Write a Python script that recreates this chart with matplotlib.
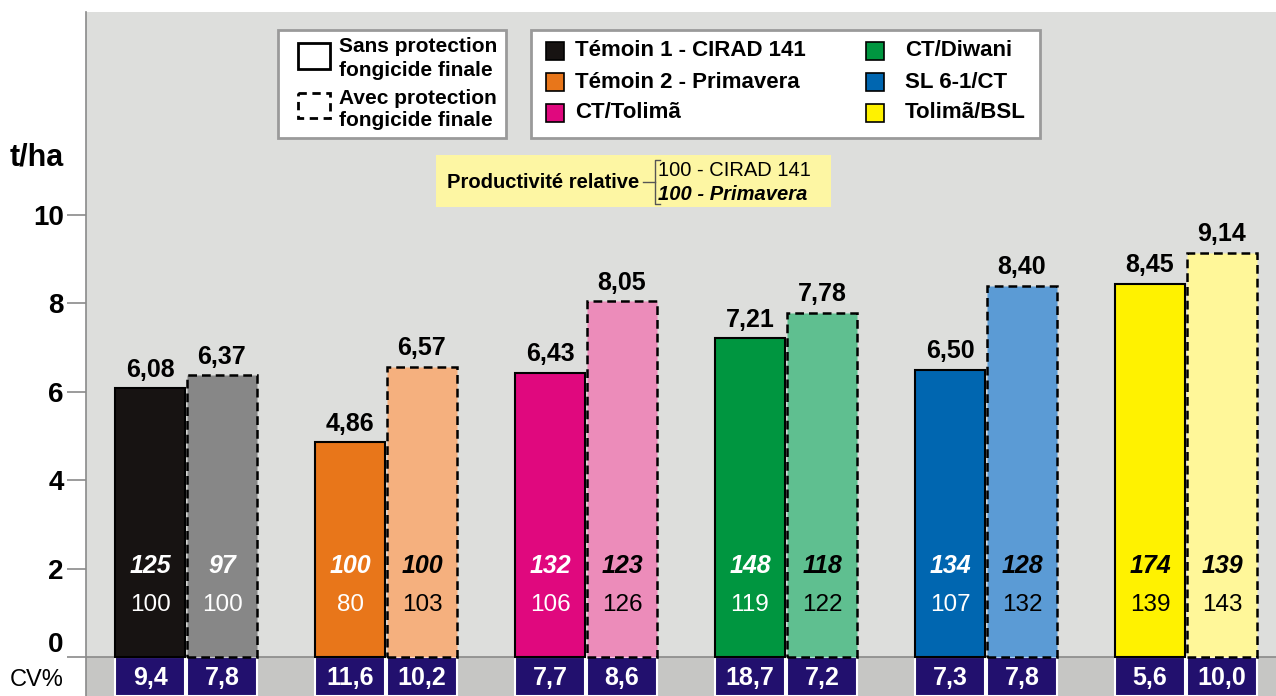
import matplotlib.pyplot as plt
from matplotlib.patches import Rectangle
from matplotlib.transforms import ScaledTranslation

plt.rcParams['font.family'] = ['Liberation Sans', 'DejaVu Sans']

# Données
varietes = ['Témoin 1 - CIRAD 141', 'Témoin 2 - Primavera', 'CT/Tolimã',
            'CT/Diwani', 'SL 6-1/CT', 'Tolimã/BSL']
sans_prot = [6.08, 4.86, 6.43, 7.21, 6.50, 8.45]
avec_prot = [6.37, 6.57, 8.05, 7.78, 8.40, 9.14]
rel_prim_sans = [125, 100, 132, 148, 134, 174]
rel_prim_avec = [97, 100, 123, 118, 128, 139]
rel_cirad_sans = [100, 80, 106, 119, 107, 139]
rel_cirad_avec = [100, 103, 126, 122, 132, 143]
cv_sans = [9.4, 11.6, 7.7, 18.7, 7.3, 5.6]
cv_avec = [7.8, 10.2, 8.6, 7.2, 7.8, 10.0]
yticks = [0, 2, 4, 6, 8, 10]
leg_protection = [('Sans protection', 'fongicide finale'),
                  ('Avec protection', 'fongicide finale')]

couleurs_sans = ['#171312', '#e8761a', '#e0087e', '#009640', '#0066b0', '#fff200']
couleurs_avec = ['#878787', '#f5b07e', '#ec8cba', '#5fbf90', '#5b9bd5', '#fff799']
txt_sans = ['white', 'white', 'white', 'white', 'white', 'black']
txt_avec = ['white', 'black', 'black', 'black', 'black', 'black']

W, H = 1276, 696
fig = plt.figure(figsize=(W / 100, H / 100), dpi=100)

# axe principal (pixels : 0 -> y=657, 44.2 px par t/ha)
y0, ppu = 657, 44.2
ax = fig.add_axes([86 / W, 0, 1 - 86 / W, 1 - 12 / H])
ax.set_xlim(-0.5, 5.45)
ax.set_ylim(-(H - y0) / ppu, (y0 - 12) / ppu)
ax.set_facecolor('#dddedc')
ax.axhspan(ax.get_ylim()[0], 0, color='#c6c6c4', zorder=0)
ax.axhline(0, color='#8a8a8a', lw=1.2, zorder=1)

for s in ['top', 'right', 'bottom']:
    ax.spines[s].set_visible(False)
ax.spines['left'].set_color('#8a8a8a')
ax.spines['left'].set_linewidth(1.2)
ax.set_xticks([])
ax.set_yticks(yticks)
ax.set_yticklabels([str(t) for t in yticks], fontsize=20, fontweight='bold')
ax.tick_params(axis='y', length=14, width=1.2, color='#8a8a8a', pad=2)
lbl0 = ax.get_yticklabels()[0]
lbl0.set_transform(lbl0.get_transform() + ScaledTranslation(0, 0.15, fig.dpi_scale_trans))

bw = 0.352
off = 0.18
ybot = ax.get_ylim()[0]
for i in range(len(varietes)):
    xs, xa = i - off, i + off
    ax.bar(xs, sans_prot[i], width=bw, color=couleurs_sans[i],
           edgecolor='black', lw=1.5, zorder=3)
    ax.bar(xa, avec_prot[i], width=bw, color=couleurs_avec[i],
           edgecolor='black', lw=1.8, ls=(0, (3.5, 2)), zorder=3)
    ax.text(xs, sans_prot[i] + 0.15, f'{sans_prot[i]:.2f}'.replace('.', ','),
            ha='center', va='bottom', fontsize=18, fontweight='bold', zorder=4)
    ax.text(xa, avec_prot[i] + 0.15, f'{avec_prot[i]:.2f}'.replace('.', ','),
            ha='center', va='bottom', fontsize=18, fontweight='bold', zorder=4)
    ax.text(xs, 2.05, str(rel_prim_sans[i]), ha='center', va='center', fontsize=18,
            fontweight='bold', style='italic', color=txt_sans[i], zorder=4)
    ax.text(xa, 2.05, str(rel_prim_avec[i]), ha='center', va='center', fontsize=18,
            fontweight='bold', style='italic', color=txt_avec[i], zorder=4)
    ax.text(xs, 1.17, str(rel_cirad_sans[i]), ha='center', va='center', fontsize=17.5,
            color=txt_sans[i], zorder=4)
    ax.text(xa, 1.17, str(rel_cirad_avec[i]), ha='center', va='center', fontsize=17.5,
            color=txt_avec[i], zorder=4)
    # ligne CV%
    for x, cv in [(xs, cv_sans[i]), (xa, cv_avec[i])]:
        ax.add_patch(Rectangle((x - bw / 2, ybot), bw, -ybot, facecolor='#22106e',
                               edgecolor='white', lw=1.5, zorder=2))
        ax.text(x, ybot / 2 - 0.03, f'{cv:.1f}'.replace('.', ','), ha='center',
                va='center', fontsize=18, fontweight='bold', color='white', zorder=4)

fig.text(10 / W, 1 - 158 / H, 't/ha', fontsize=22, fontweight='bold', va='center')
fig.text(10 / W, 1 - 680 / H, 'CV%', fontsize=17, va='center')

# légendes et encadré (coordonnées en pixels)
ov = fig.add_axes([0, 0, 1, 1], zorder=5)
ov.set_xlim(0, W)
ov.set_ylim(H, 0)
ov.axis('off')

ov.add_patch(Rectangle((278, 30), 228, 108, facecolor='white', edgecolor='#9a9a9a', lw=2))
ov.add_patch(Rectangle((531, 30), 509, 108, facecolor='white', edgecolor='#9a9a9a', lw=2))
ov.add_patch(Rectangle((298, 43), 32, 26, facecolor='white', edgecolor='black', lw=2))
ov.add_patch(Rectangle((298, 93), 32, 25, facecolor='white', edgecolor='black', lw=2,
                       ls=(0, (3, 2))))
for k, (l1, l2) in enumerate(leg_protection):
    yb = 47 + k * 51
    ov.text(339, yb, l1, fontsize=15, fontweight='bold', va='center')
    ov.text(339, yb + 23, l2, fontsize=15, fontweight='bold', va='center')

for k, nom in enumerate(varietes):
    col, row = divmod(k, 3)
    x0 = 546 if col == 0 else 866
    xt = 575 if col == 0 else 905
    yc = 51 + row * 31
    ov.add_patch(Rectangle((x0, yc - 9), 18, 18, facecolor=couleurs_sans[k],
                           edgecolor='black', lw=1.2))
    ov.text(xt, yc, nom, fontsize=16, fontweight='bold', va='center')

ov.add_patch(Rectangle((436, 155), 395, 52, facecolor='#fdf6a3', edgecolor='none'))
ov.text(447, 182, 'Productivité relative', fontsize=14.5, fontweight='bold', va='center')
ov.plot([643, 655], [182, 182], color='#555555', lw=1)
ov.plot([660, 655, 655, 660], [160, 160, 204, 204], color='#555555', lw=1)
ov.text(658, 171, '100 - CIRAD 141', fontsize=14.5, va='center')
ov.text(658, 194, '100 - Primavera', fontsize=14.5, fontweight='bold', style='italic',
        va='center')

fig.savefig('out.png', dpi=100)
